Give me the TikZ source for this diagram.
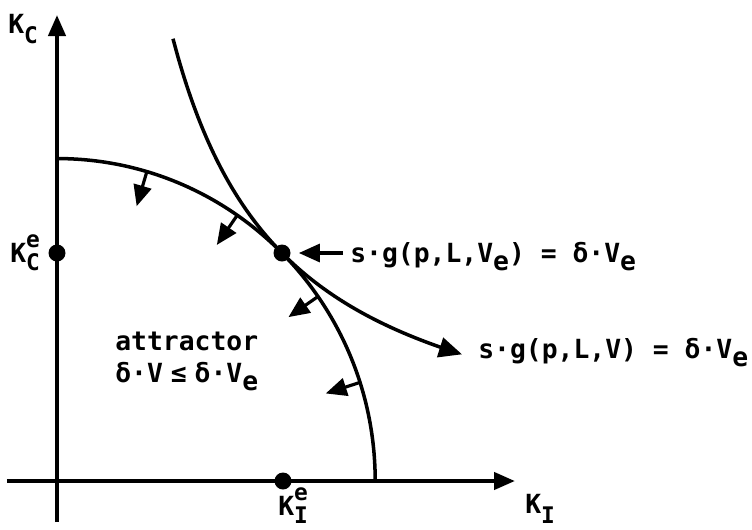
\documentclass[tikz,border=0pt]{standalone}
\usepackage{fontspec}
\setmonofont{DejaVu Sans Mono}
\usepackage{tikz}
\usetikzlibrary{calc,arrows.meta,positioning}
\newcommand{\lblfont}{\fontsize{15}{18}\selectfont\ttfamily\bfseries}
\newcommand{\idxfont}{\fontsize{13}{15}\selectfont}
% lowered index and stacked index/exponent
\newcommand{\lo}[1]{\raisebox{-0.32em}{#1}}
\newcommand{\Klo}[1]{K\raisebox{-0.38em}{\idxfont #1}}
\newcommand{\Kex}[1]{K\rlap{\raisebox{0.56em}{\idxfont e}}\raisebox{-0.34em}{\idxfont #1}}
\tikzset{
    % axes and curves
    axis/.style={line width=2.4pt, -{Triangle[length=0.42cm,width=0.34cm]}},
    curve/.style={line width=2pt},
    flowcurve/.style={curve, -{Triangle[length=0.46cm,width=0.4cm]}},
    % small arrows pointing into the attractor
    pusharrow/.style={line width=1.8pt, -{Triangle[length=0.42cm,width=0.36cm]}},
    % points and labels
    dot/.style={circle, fill=black, minimum size=0.34cm, inner sep=0pt},
    lbl/.style={font=\lblfont, inner sep=0pt, anchor=base west},
}

\begin{document}
\begin{tikzpicture}
      \useasboundingbox (-1.14,-0.96) rectangle (13.9,9.62);
      \def\rx{6.364} \def\ry{6.449}
      % axes
      \coordinate (ybot) at (0,-0.82); \coordinate (ytop) at (0,9.32);
      \coordinate (xlft) at (-1.0,0);  \coordinate (xrgt) at (9.16,0);
      \draw[axis] (ybot) -- (ytop);
      \draw[axis] (xlft) -- (xrgt);
      \node[lbl] (KC) at (-0.98,8.96) {\Klo{C}};
      \node[lbl] (KI) at (9.36,-0.64) {\Klo{I}};
      % level curve delta*V = delta*V_e
      \coordinate (etop) at (0,\ry);
      \draw[curve] (etop) arc[start angle=90, end angle=0, x radius=\rx, y radius=\ry];
      % s*g(p,L,V) = delta*V_e
      \draw[flowcurve] plot[domain=2.32:8.1, samples=60, smooth] (\x,{20.52/\x});
      % equilibrium
      \node[dot] (T) at (4.5,4.56) {};
      \node[dot] (KCe) at (0,4.56) {};
      \node[dot] (KIe) at (4.52,0) {};
      \node[lbl] (KCelbl) at (-0.94,4.38) {\Kex{C}};
      \node[lbl] (KIelbl) at (4.42,-0.68) {\Kex{I}};
      \node[lbl] (eqVe) at (5.86,4.38) {s·g(p,L,V\lo{e}) = δ·V\lo{e}};
      \node[lbl] (eqV) at (8.42,2.46) {s·g(p,L,V) = δ·V\lo{e}};
      \draw[pusharrow, shorten >=0.16cm] ([xshift=-0.14cm]eqVe.west |- T) -- (T);
      \node[lbl] (attr) at (1.16,2.62) {attractor};
      \node[lbl] (ineq) at (1.16,1.98) {δ·V\hspace{0.3em}≤\hspace{0.3em}δ·V\lo{e}};
      % arrows into the attractor
      \foreach \t [count=\i] in {73.6,55.5,34.9,17.8} {
        \coordinate (e\i) at ({\rx*cos(\t)},{\ry*sin(\t)});
        \coordinate (f\i) at ($(e\i)+(\t+180:0.72)$);
        \draw[pusharrow] (e\i) -- (f\i);
      }
\end{tikzpicture}
\end{document}
